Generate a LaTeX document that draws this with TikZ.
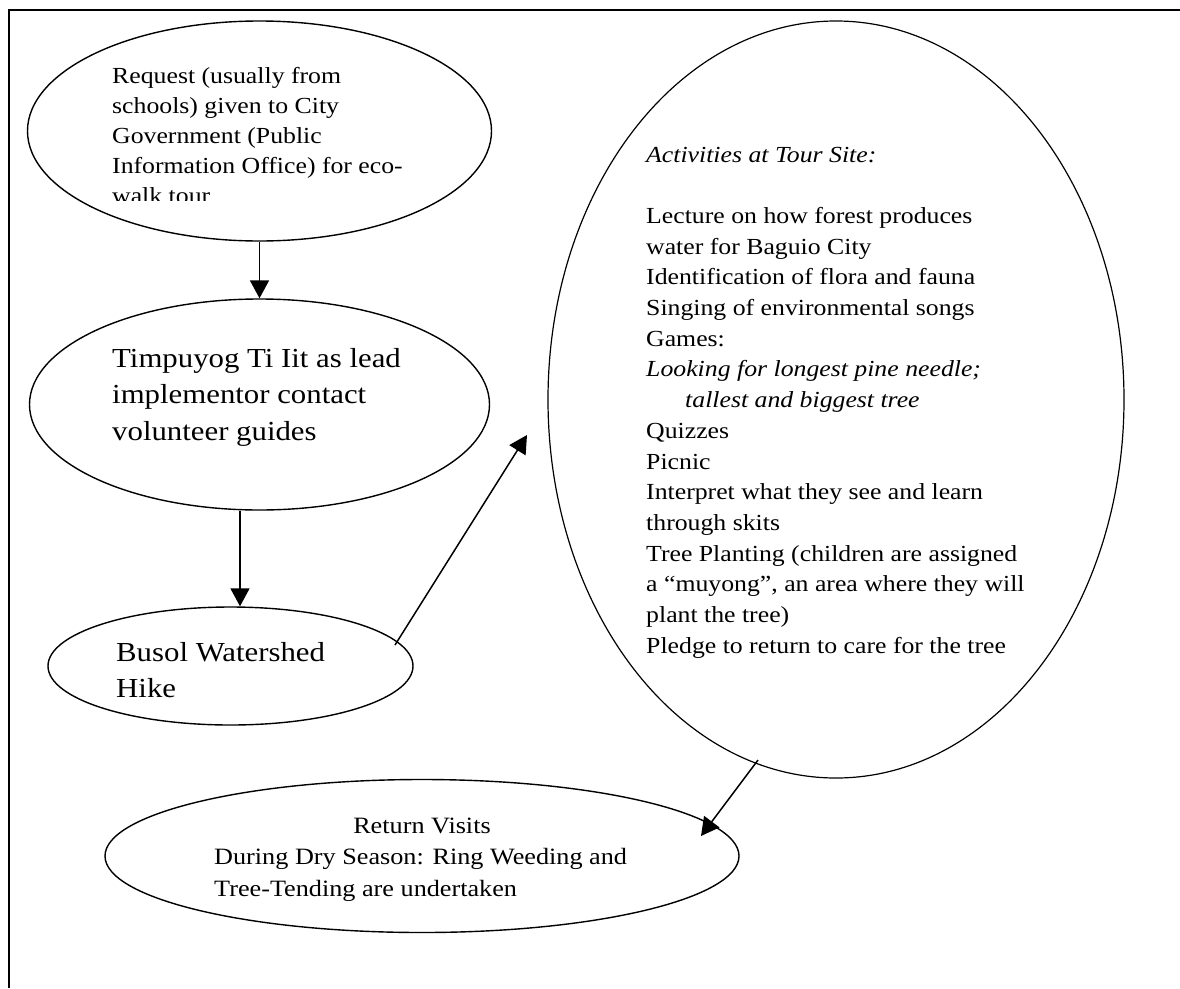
\documentclass[tikz,border=0pt]{standalone}
\usepackage{fontspec}
\setmainfont{Liberation Serif}[FakeStretch=1.12]
\usetikzlibrary{shapes.geometric,arrows.meta}
\newcommand\mylines[1]{\vtop{\lineskiplimit=-100pt\relax #1}}
\begin{document}
\begin{tikzpicture}[x=1pt,y=-1pt,
  oval/.style={draw, ellipse, line width=1.4pt, inner sep=0pt},
  txt/.style={anchor=base west, inner sep=0pt},
  fontA/.style={font=\fontsize{23}{30}\selectfont},
  fontB/.style={font=\fontsize{27.5}{36.8}\selectfont},
  fontC/.style={font=\fontsize{23}{30.7}\selectfont},
  fontD/.style={font=\fontsize{23.4}{32}\selectfont},
  arr/.style={line width=1.8pt, -{Triangle[length=18pt,width=19pt]}},
]
\useasboundingbox (0,0) rectangle (1180,988);
% frame (top and left edges only)
\draw[line width=2pt] (9,988) -- (9,10) -- (1180,10);

% ellipses
\node[oval, minimum width=464pt, minimum height=220pt] (req) at (259.5,131) {};
\node[oval, minimum width=460pt, minimum height=211pt] (tim) at (259.5,404.5) {};
\node[oval, minimum width=365pt, minimum height=118pt] (bus) at (230.5,666) {};
\node[oval, line width=1.2pt, minimum width=576pt, minimum height=757pt] (act) at (836,399.5) {};
\node[oval, minimum width=634pt, minimum height=153pt] (ret) at (422,856) {};

% texts
\begin{scope}
\clip (100,50) rectangle (480,200);
\node[txt, fontA] (reqtext) at (112,83) {\mylines{%
\hbox{Request (usually from}
\hbox{schools) given to City}
\hbox{Government (Public}
\hbox{Information Office) for eco-}
\hbox{walk tour}}};
\end{scope}

\node[txt, fontB] (timtext) at (112,367) {\mylines{%
\hbox{Timpuyog Ti Iit as lead}
\hbox{implementor contact}
\hbox{volunteer guides}}};

\node[txt, fontB] (bustext) at (116,661) {\mylines{%
\hbox{Busol Watershed}
\hbox{Hike}}};

\node[txt, fontC] (acttext) at (646,162) {\mylines{%
\hbox{\itshape Activities at Tour Site:}
\hbox{}
\hbox{Lecture on how forest produces}
\hbox{water for Baguio City}
\hbox{Identification of flora and fauna}
\hbox{Singing of environmental songs}
\hbox{Games:}
\hbox{\itshape Looking for longest pine needle;}
\hbox{\hspace{39pt}\itshape tallest and biggest tree}
\hbox{Quizzes}
\hbox{Picnic}
\hbox{Interpret what they see and learn}
\hbox{through skits}
\hbox{Tree Planting (children are assigned}
\hbox{a “muyong”, an area where they will}
\hbox{plant the tree)}
\hbox{Pledge to return to care for the tree}}};

\node[anchor=base, inner sep=0pt, fontD] (rettitle) at (422,833) {Return Visits};
\node[txt, fontD] (rettext) at (214,864) {\mylines{%
\hbox{During Dry Season: Ring Weeding and}
\hbox{Tree-Tending are undertaken}}};

% connectors
\coordinate (a2x) at (240,0);
\coordinate (a3s) at (395,645);
\coordinate (a3e) at (527,435);
\coordinate (a4s) at (758,760);
\coordinate (a4e) at (701,836);
\draw[arr] (req.south) -- (tim.north);
\draw[arr] (tim.south -| a2x) -- (bus.north -| a2x);
\draw[arr, line width=1.5pt] (a3s) -- (a3e);
\draw[arr, line width=1.5pt] (a4s) -- (a4e);
\end{tikzpicture}
\end{document}
